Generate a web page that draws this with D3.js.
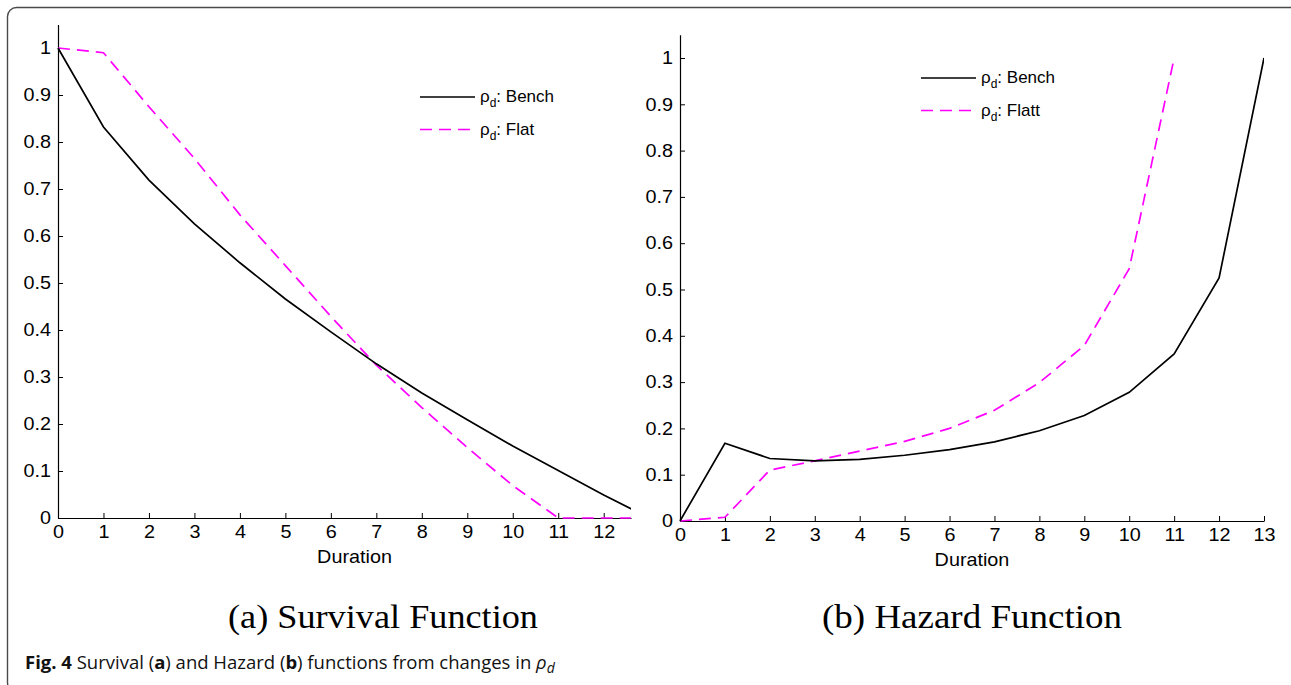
<!DOCTYPE html>
<html>
<head>
<meta charset="utf-8">
<script src="https://cdn.jsdelivr.net/npm/d3@7"></script>
<style>
  html, body { margin: 0; padding: 0; background: #fff; }
  svg { display: block; }
</style>
</head>
<body>
<svg id="chart" width="1291" height="685"></svg>
<script>
// ---- Data ----
const durations = [0,1,2,3,4,5,6,7,8,9,10,11,12,13];
const survivalBench = [1, 0.832, 0.719, 0.626, 0.543, 0.466, 0.396, 0.328, 0.266, 0.209, 0.153, 0.101, 0.049, 0];
const survivalFlat  = [1, 0.99, 0.875, 0.765, 0.645, 0.537, 0.429, 0.325, 0.235, 0.15, 0.069, 0, 0, 0];
const hazardDurations = [0,1,2,3,4,5,6,7,8,9,10,11,12,13];
const hazardBench = [0, 0.168, 0.135, 0.13, 0.133, 0.142, 0.154, 0.171, 0.195, 0.228, 0.278, 0.361, 0.525, 1.0];
const hazardFlattDurations = [0,1,2,3,4,5,6,7,8,9,10,11];
const hazardFlatt = [0, 0.008, 0.11, 0.13, 0.151, 0.172, 0.2, 0.239, 0.299, 0.379, 0.545, 1.0];
const yTickValues = [0,0.1,0.2,0.3,0.4,0.5,0.6,0.7,0.8,0.9,1];
const yTickLabels = ["0","0.1","0.2","0.3","0.4","0.5","0.6","0.7","0.8","0.9","1"];
const xTicksA = [0,1,2,3,4,5,6,7,8,9,10,11,12];
const xTicksB = [0,1,2,3,4,5,6,7,8,9,10,11,12,13];

const svg = d3.select("#chart");
const FONT = "'Liberation Sans', Arial, Helvetica, sans-serif";
const MAGENTA = "#ff00ff";
const SX = 1.1;           // horizontal stretch of the original figure text
const DASH = "12,7";

// Outer frame
svg.append("rect")
  .attr("x", 7.5).attr("y", 7.5)
  .attr("width", 1296).attr("height", 684)
  .attr("rx", 9).attr("ry", 9)
  .attr("fill", "none").attr("stroke", "#4a4a4a").attr("stroke-width", 1.4);

function stretch(sel, x, sx) {
  sel.attr("x", x / sx).attr("transform", `scale(${sx},1)`);
}

function panel(cfg) {
  const g = svg.append("g");
  const x = d3.scaleLinear().domain(cfg.xDomain).range(cfg.xRange);
  const y = d3.scaleLinear().domain([0, 1.05]).range(cfg.yRange);

  const clipId = "clip" + cfg.id;
  svg.append("clipPath").attr("id", clipId)
    .append("rect")
    .attr("x", cfg.xRange[0] - 2).attr("y", cfg.yRange[1] - 2)
    .attr("width", cfg.xRange[1] - cfg.xRange[0] + 2)
    .attr("height", cfg.yRange[0] - cfg.yRange[1] + 4);

  const yAxis = d3.axisLeft(y).tickValues(yTickValues)
    .tickFormat((d, i) => yTickLabels[i])
    .tickSizeInner(-5).tickSizeOuter(0).tickPadding(8);
  const xAxis = d3.axisBottom(x).tickValues(cfg.xTicks)
    .tickFormat(d => String(d))
    .tickSizeInner(-5).tickSizeOuter(0).tickPadding(6);

  const ya = g.append("g").attr("transform", `translate(${cfg.xRange[0]},0)`).call(yAxis);
  const xa = g.append("g").attr("transform", `translate(0,${cfg.yRange[0]})`).call(xAxis);
  [ya, xa].forEach(a => {
    a.select(".domain").attr("stroke", "#000").attr("stroke-width", 1.2);
    a.selectAll(".tick line").attr("stroke", "#000").attr("stroke-width", 1);
    a.selectAll("text").attr("fill", "#000")
      .style("font-family", FONT).style("font-size", "18px");
  });
  ya.selectAll(".tick text").attr("x", -7 / SX).attr("transform", `scale(${SX},1)`);
  xa.selectAll(".tick text").attr("dy", "0.76em").attr("transform", `scale(${SX},1)`);

  // x label
  const xl = g.append("text")
    .attr("y", cfg.yRange[0] + 45)
    .attr("text-anchor", "middle")
    .style("font-family", FONT).style("font-size", "18px")
    .text("Duration");
  stretch(xl, (cfg.xRange[0] + cfg.xRange[1]) / 2 + cfg.labelDx, SX);

  const line = d3.line().x(d => x(d[0])).y(d => y(d[1]));
  const lines = g.append("g").attr("clip-path", `url(#${clipId})`);
  lines.append("path")
    .datum(cfg.seriesB.xs.map((d, i) => [d, cfg.seriesB.ys[i]]))
    .attr("d", line).attr("fill", "none").attr("stroke", MAGENTA)
    .attr("stroke-width", 1.7).attr("stroke-dasharray", DASH);
  lines.append("path")
    .datum(cfg.seriesA.xs.map((d, i) => [d, cfg.seriesA.ys[i]]))
    .attr("d", line).attr("fill", "none").attr("stroke", "#000")
    .attr("stroke-width", 1.7);

  // legend
  const lg = g.append("g").attr("transform", `translate(${cfg.legend[0]},${cfg.legend[1]})`);
  cfg.legendLabels.forEach((lab, i) => {
    const yy = i * 32.5;
    lg.append("line").attr("x1", 0).attr("x2", 55).attr("y1", yy).attr("y2", yy)
      .attr("stroke", i === 0 ? "#000" : MAGENTA).attr("stroke-width", 1.7)
      .attr("stroke-dasharray", i === 0 ? null : DASH);
    const t = lg.append("text").attr("y", yy + 5)
      .style("font-family", FONT).style("font-size", "17px");
    stretch(t, 60, 1.0);
    t.append("tspan").text("ρ");
    t.append("tspan").attr("dy", 5).style("font-size", "12px").text("d");
    t.append("tspan").attr("dy", -5).text(": " + lab);
  });

  // subtitle
  svg.append("text")
    .attr("x", cfg.subX).attr("y", 628)
    .attr("text-anchor", "middle")
    .attr("textLength", cfg.subW).attr("lengthAdjust", "spacingAndGlyphs")
    .style("font-family", "'Liberation Serif', 'Times New Roman', serif")
    .style("font-size", "33px")
    .text(cfg.subtitle);
}

panel({
  id: "a", xDomain: [0, 12.6], xRange: [58, 631], yRange: [518, 24.5],
  xTicks: xTicksA, labelDx: 10,
  seriesA: { xs: durations, ys: survivalBench },
  seriesB: { xs: durations, ys: survivalFlat },
  legend: [420, 97], legendLabels: ["Bench", "Flat"],
  subtitle: "(a) Survival Function", subX: 383, subW: 310
});

panel({
  id: "b", xDomain: [0, 13], xRange: [680, 1264], yRange: [521, 34.85],
  xTicks: xTicksB, labelDx: 0,
  seriesA: { xs: hazardDurations, ys: hazardBench },
  seriesB: { xs: hazardFlattDurations, ys: hazardFlatt },
  legend: [921, 78], legendLabels: ["Bench", "Flatt"],
  subtitle: "(b) Hazard Function", subX: 972, subW: 300
});

// caption
const cap = svg.append("text").attr("x", 25).attr("y", 669)
  .style("font-family", "'Open Sans', 'Noto Sans', sans-serif").style("font-size", "18.5px")
  .attr("fill", "#111");
cap.append("tspan").style("font-weight", "bold").text("Fig. 4");
cap.append("tspan").text(" Survival (");
cap.append("tspan").style("font-weight", "bold").text("a");
cap.append("tspan").text(") and Hazard (");
cap.append("tspan").style("font-weight", "bold").text("b");
cap.append("tspan").text(") functions from changes in ");
cap.append("tspan").style("font-style", "italic").text("ρ");
cap.append("tspan").style("font-style", "italic").style("font-size", "14px").attr("dy", 4).text("d");
</script>
</body>
</html>
